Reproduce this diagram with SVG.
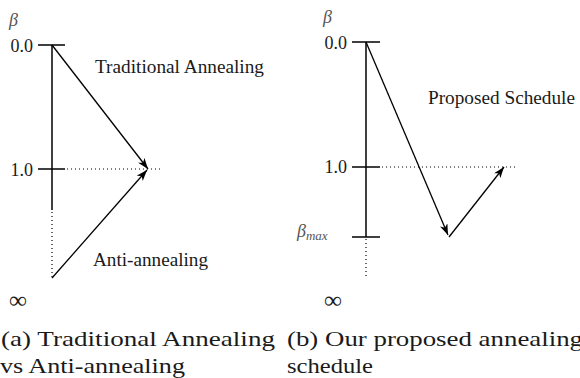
<svg xmlns="http://www.w3.org/2000/svg" width="580" height="378" viewBox="0 0 580 378">
<style>
.ax{stroke:#000;stroke-width:1.5;fill:none}
.dot{stroke:#000;stroke-width:1.2;stroke-dasharray:1 3;fill:none}
.arr{stroke:#000;stroke-width:1.3;fill:none;marker-end:url(#ah)}
.t{font-family:'Times New Roman',Tinos,'Liberation Serif',serif;fill:#1a1a1a}
.b{font-family:'Times New Roman',Tinos,'Liberation Serif',serif;font-style:italic;fill:#555}
</style>
<defs>
<marker id="ah" markerUnits="userSpaceOnUse" markerWidth="12" markerHeight="9" refX="11" refY="4" orient="auto">
<path d="M0,0 L11,4 L0,8 L3,4 z" fill="#000"/>
</marker>
</defs>
<rect width="580" height="378" fill="#fff"/>
<g id="axis-a">
<line class="ax" x1="52" y1="45" x2="52" y2="210"/>
<line class="dot" x1="52" y1="212" x2="52" y2="278"/>
<line class="ax" x1="38" y1="45" x2="65" y2="45"/>
<line class="ax" x1="38" y1="169" x2="65" y2="169"/>
<line class="dot" x1="67" y1="169" x2="162" y2="169"/>
<text class="b" x="9" y="26" font-size="18">β</text>
<text class="t" x="33" y="52" font-size="18" text-anchor="end">0.0</text>
<text class="t" x="33" y="176" font-size="18" text-anchor="end">1.0</text>
<text class="t" x="9" y="308" font-size="24" textLength="18" lengthAdjust="spacingAndGlyphs">∞</text>
</g>
<g id="axis-b">
<line class="ax" x1="366" y1="42" x2="366" y2="237"/>
<line class="dot" x1="366" y1="239" x2="366" y2="278"/>
<line class="ax" x1="352" y1="42" x2="380" y2="42"/>
<line class="ax" x1="352" y1="167" x2="380" y2="167"/>
<line class="ax" x1="352" y1="237" x2="380" y2="237"/>
<line class="dot" x1="382" y1="167" x2="516" y2="167"/>
<text class="b" x="323" y="23" font-size="18">β</text>
<text class="t" x="347" y="49" font-size="18" text-anchor="end">0.0</text>
<text class="t" x="347" y="173" font-size="18" text-anchor="end">1.0</text>
<text class="b" x="297" y="237" font-size="18">β<tspan font-size="13" dy="3">max</tspan></text>
<text class="t" x="324" y="308" font-size="24" textLength="18" lengthAdjust="spacingAndGlyphs">∞</text>
</g>
<g id="connectors">
<line class="arr" x1="52" y1="45" x2="148" y2="169"/>
<line class="arr" x1="52" y1="278" x2="147" y2="170"/>
<line class="arr" x1="366" y1="42" x2="448" y2="235"/>
<line class="arr" x1="449" y1="237" x2="504" y2="167"/>
</g>
<g id="labels">
<text class="t" x="95" y="73" font-size="18" textLength="169" lengthAdjust="spacingAndGlyphs">Traditional Annealing</text>
<text class="t" x="93" y="266" font-size="18" textLength="115" lengthAdjust="spacingAndGlyphs">Anti-annealing</text>
<text class="t" x="428" y="104" font-size="18" textLength="147" lengthAdjust="spacingAndGlyphs">Proposed Schedule</text>
</g>
<g id="captions">
<text class="t" x="1" y="346" font-size="22" textLength="274" lengthAdjust="spacingAndGlyphs">(a) Traditional Annealing</text>
<text class="t" x="0" y="373" font-size="22" textLength="185" lengthAdjust="spacingAndGlyphs">vs Anti-annealing</text>
<text class="t" x="287" y="346" font-size="22" textLength="296" lengthAdjust="spacingAndGlyphs">(b) Our proposed annealing</text>
<text class="t" x="287" y="373" font-size="22" textLength="86" lengthAdjust="spacingAndGlyphs">schedule</text>
</g>
</svg>
